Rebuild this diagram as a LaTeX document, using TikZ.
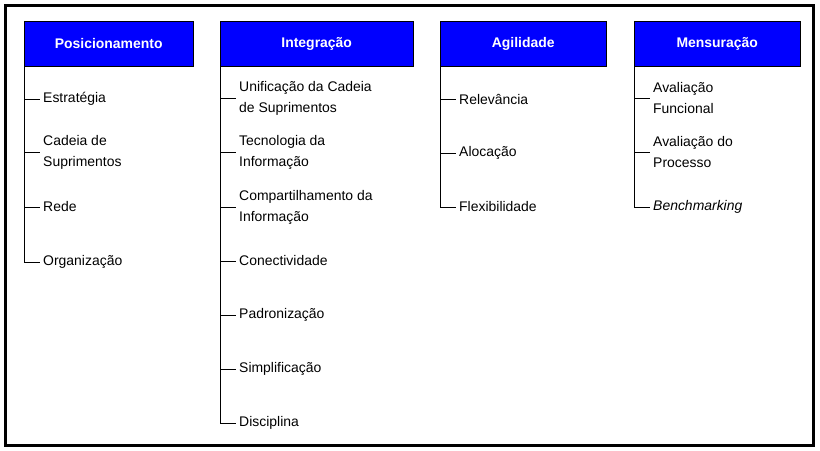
\documentclass[tikz,border=0pt]{standalone}
\usepackage{fontspec}
\setmainfont{Liberation Sans}
\begin{document}
\begin{tikzpicture}[x=1bp,y=-1bp,
  hdr/.style={draw=black,fill=blue,text=white,font=\fontsize{14}{16}\selectfont\bfseries,minimum height=45bp,inner sep=0pt,anchor=north west},
  item/.style={anchor=west,align=left,inner sep=0pt,font=\fontsize{14}{21}\selectfont},
  ln/.style={black,line width=0.8bp}]
\useasboundingbox (0,0) rectangle (820,451);
\draw[line width=3bp] (5,6) rectangle (813,445);
% headers
\node[hdr,minimum width=169bp] (h1) at (24,21) {Posicionamento};
\node[hdr,minimum width=193bp] (h2) at (220,21) {Integração};
\node[hdr,minimum width=166bp] (h3) at (440,21) {Agilidade};
\node[hdr,minimum width=166bp] (h4) at (634,21) {Mensuração};
% items: column x, list of y/text
\foreach \hx/\hn/\lst in {24/h1/{99/Estratégia,152/{Cadeia de\\Suprimentos},207/Rede,262/Organização},
  220/h2/{98/{Unificação da Cadeia\\de Suprimentos},152/{Tecnologia da\\Informação},207/{Compartilhamento da\\Informação},261/Conectividade,315/Padronização,369/Simplificação,423/Disciplina},
  440/h3/{99/Relevância,153/Alocação,207/Flexibilidade},
  634/h4/{98/{Avaliação\\Funcional},152/{Avaliação do\\Processo},207/{\itshape Benchmarking}}}{
  \foreach \yy/\tt [count=\i] in \lst {
    \coordinate (c\i) at (\hx,\yy);
    \node[item] (t\i) at (\hx+19,\yy) {\tt};
    \draw[ln] (c\i) -- ++(16,0);
    \xdef\lastyy{\yy}
  }
  \coordinate (end) at (\hx,\lastyy);
  \draw[ln] (\hx,66) -- (end);
}
\end{tikzpicture}
\end{document}
